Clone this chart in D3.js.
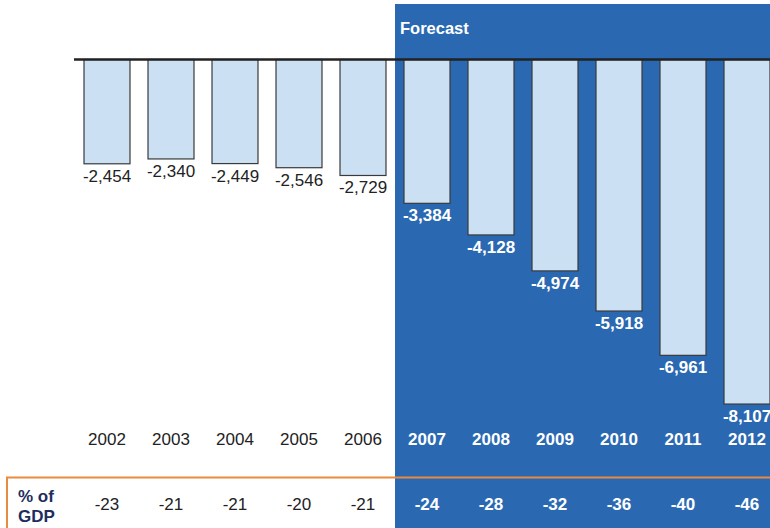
<!DOCTYPE html>
<html>
<head>
<meta charset="utf-8">
<script src="https://cdn.jsdelivr.net/npm/d3@7"></script>
<style>
  html, body { margin: 0; padding: 0; background: #fff; }
  svg { display: block; font-family: "Liberation Sans", Arial, Helvetica, sans-serif; }
</style>
</head>
<body>
<svg id="chart" width="770" height="528"></svg>
<script>
// Balance by year (negative values), with the forecast years flagged
const years = ["2002","2003","2004","2005","2006","2007","2008","2009","2010","2011","2012"];
const balance = [-2454, -2340, -2449, -2546, -2729, -3384, -4128, -4974, -5918, -6961, -8107];
const pctOfGdp = [-23, -21, -21, -20, -21, -24, -28, -32, -36, -40, -46];
const forecastYears = ["2007","2008","2009","2010","2011","2012"];

const svg = d3.select("#chart");
const W = 770, H = 528;

const x = d3.scaleBand()
  .domain(years)
  .range([75, 779])
  .paddingInner(0.28125)
  .paddingOuter(0.140625);

const y = d3.scaleLinear()
  .domain([0, -10000])
  .range([59.5, 59.5 + 425]);

const isForecast = d => forecastYears.includes(d);
// Thousands separator with a plain hyphen for the minus sign
const fmt = d3.formatLocale({ decimal: ".", thousands: ",", grouping: [3], currency: ["", ""], minus: "-" }).format(",");

// Forecast panel
const fStart = x(forecastYears[0]) - (x.step() - x.bandwidth()) / 2;
svg.append("rect")
  .attr("x", fStart).attr("y", 4)
  .attr("width", W - fStart).attr("height", H - 4)
  .attr("fill", "#2a69b2");

svg.append("text")
  .attr("x", fStart + 5).attr("y", 34)
  .attr("fill", "#fff")
  .attr("font-size", 16.5).attr("font-weight", "bold")
  .text("Forecast");

// Bars
const data = years.map((yr, i) => ({ yr, v: balance[i], p: pctOfGdp[i] }));

svg.append("g").selectAll("rect")
  .data(data).join("rect")
  .attr("x", d => x(d.yr))
  .attr("y", y(0))
  .attr("width", x.bandwidth())
  .attr("height", d => y(d.v) - y(0))
  .attr("fill", "#cbe0f3")
  .attr("stroke", "#3a3a3a")
  .attr("stroke-width", 1.2);

// Zero line
svg.append("line")
  .attr("x1", 74).attr("x2", W)
  .attr("y1", y(0)).attr("y2", y(0))
  .attr("stroke", "#222").attr("stroke-width", 2.5);

// Value labels
svg.append("g").selectAll("text")
  .data(data).join("text")
  .attr("x", d => x(d.yr) + x.bandwidth() / 2)
  .attr("y", d => y(d.v) + 18)
  .attr("text-anchor", "middle")
  .attr("font-size", 17)
  .attr("font-weight", d => isForecast(d.yr) ? "bold" : "normal")
  .attr("fill", d => isForecast(d.yr) ? "#fff" : "#222")
  .text(d => fmt(d.v));

// Year labels
svg.append("g").selectAll("text")
  .data(data).join("text")
  .attr("x", d => x(d.yr) + x.bandwidth() / 2)
  .attr("y", 445)
  .attr("text-anchor", "middle")
  .attr("font-size", 17)
  .attr("font-weight", d => isForecast(d.yr) ? "bold" : "normal")
  .attr("fill", d => isForecast(d.yr) ? "#fff" : "#222")
  .text(d => d.yr);

// % of GDP row frame
svg.append("path")
  .attr("d", `M7,${H} V477.5 H${W}`)
  .attr("fill", "none")
  .attr("stroke", "#ea8a3e")
  .attr("stroke-width", 2);

const rowLabel = svg.append("text")
  .attr("font-size", 17).attr("font-weight", "bold")
  .attr("fill", "#1e2d5e");
rowLabel.append("tspan").attr("x", 18).attr("y", 502).text("% of");
rowLabel.append("tspan").attr("x", 18).attr("y", 522).text("GDP");

svg.append("g").selectAll("text")
  .data(data).join("text")
  .attr("x", d => x(d.yr) + x.bandwidth() / 2)
  .attr("y", 510)
  .attr("text-anchor", "middle")
  .attr("font-size", 17)
  .attr("font-weight", d => isForecast(d.yr) ? "bold" : "normal")
  .attr("fill", d => isForecast(d.yr) ? "#fff" : "#222")
  .text(d => d.p);
</script>
</body>
</html>
